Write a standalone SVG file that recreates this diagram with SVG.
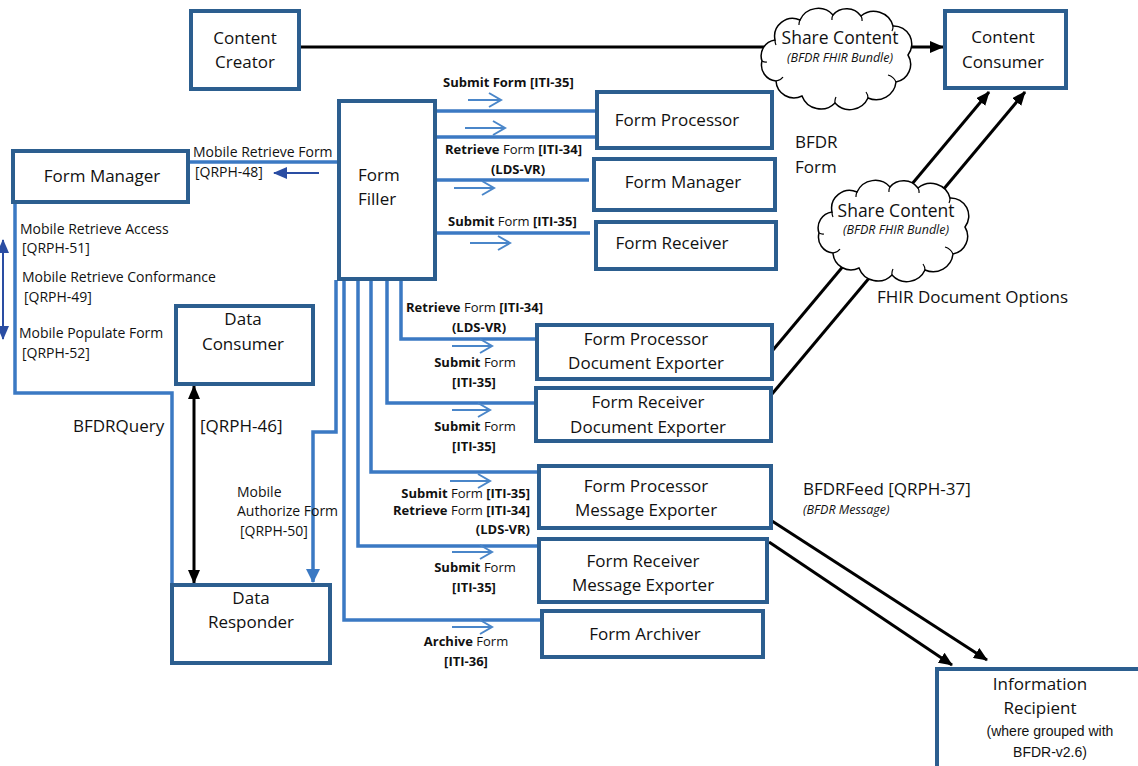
<svg xmlns="http://www.w3.org/2000/svg" width="1138" height="766" viewBox="0 0 1138 766">
<style>
.box{fill:#fff;stroke:#2C5E8F;stroke-width:4}
.t{font-family:"Open Sans","Noto Sans",sans-serif;font-size:17px;fill:#111;text-anchor:middle}
.s{font-family:"Open Sans","Noto Sans",sans-serif;font-size:14px;fill:#111}
.b{font-family:"Open Sans","Noto Sans",sans-serif;font-size:13px;fill:#111}
.bb{font-weight:bold}
.it{font-family:"Open Sans","Noto Sans",sans-serif;font-size:12.5px;font-style:italic;fill:#111;text-anchor:middle}
.blue{fill:none;stroke:#3B79C3;stroke-width:3.5}
.blk{fill:none;stroke:#000;stroke-width:3}
.sm{fill:none;stroke:#4A86C9;stroke-width:2}
.cloud{fill:#fff;stroke:#000;stroke-width:1.5}
.cin{fill:none;stroke:#000;stroke-width:1.2}
</style>
<defs>
<marker id="ab" viewBox="0 0 14 12" refX="13" refY="6" markerWidth="14" markerHeight="12" markerUnits="userSpaceOnUse" orient="auto-start-reverse"><path d="M0,0 L14,6 L0,12 Z" fill="#000"/></marker>
<marker id="abl" viewBox="0 0 14 14" refX="13" refY="7" markerWidth="14" markerHeight="14" markerUnits="userSpaceOnUse" orient="auto"><path d="M0,0 L14,7 L0,14 Z" fill="#3B79C3"/></marker>
<marker id="adb" viewBox="0 0 14 12" refX="13" refY="6" markerWidth="14" markerHeight="12" markerUnits="userSpaceOnUse" orient="auto-start-reverse"><path d="M0,0 L14,6 L0,12 Z" fill="#2A4DA3"/></marker>
<g id="cl">
<path class="cloud" d="M20,30 A18,18 0 0 1 45,10 A20,20 0 0 1 78,5 A18,18 0 0 1 106,6 A20,20 0 0 1 138,16 A18,18 0 0 1 153,45 A18,18 0 0 1 141,72 A20,20 0 0 1 113,88 A20,20 0 0 1 80,93 A20,20 0 0 1 47,86 A18,18 0 0 1 21,71 A16,16 0 0 1 7,51 A16,16 0 0 1 20,30 Z"/>
<path class="cin" d="M20,30 A12,12 0 0 0 21,35 M45,10 A10,10 0 0 0 44,15 M78,5 A8,8 0 0 0 77,10 M106,6 A8,8 0 0 1 107,11 M138,16 A10,10 0 0 1 137,21 M141,72 A12,12 0 0 0 133,65 M113,88 A10,10 0 0 0 111,82 M80,93 A10,10 0 0 1 81,87 M21,71 A10,10 0 0 0 28,67 M7,51 A8,8 0 0 0 12,52"/>
</g>
</defs>

<g id="connectors">
  <path class="blk" d="M300,47 H943" marker-end="url(#ab)"/>
  <path class="blk" d="M773,350 L989,92" marker-end="url(#ab)"/>
  <path class="blk" d="M772,394 L1025,92" marker-end="url(#ab)"/>
  <path class="blk" d="M772,521 L987,660" marker-end="url(#ab)"/>
  <path class="blk" d="M769,542 L952,665" marker-end="url(#ab)"/>
  <path class="blk" d="M194,386 V583" marker-start="url(#ab)" marker-end="url(#ab)"/>
  <path class="blue" d="M338,162 H190"/>
  <path class="blue" d="M15,203 V393 H172 V584"/>
  <path class="blue" d="M336,280 V432 H313 V582" marker-end="url(#abl)"/>
  <path class="blue" d="M436,111 H596"/>
  <path class="blue" d="M436,137 H596"/>
  <path class="blue" d="M436,180 H589"/>
  <path class="blue" d="M436,233 H590"/>
  <path class="blue" d="M401,280 V339 H536"/>
  <path class="blue" d="M387,280 V403 H535"/>
  <path class="blue" d="M371,280 V472 H538"/>
  <path class="blue" d="M358,280 V546 H538"/>
  <path class="blue" d="M344,280 V620 H541"/>
  <path d="M319,173 H274" fill="none" stroke="#2A4DA3" stroke-width="2" marker-end="url(#adb)"/>
  <path d="M3,240 V339" fill="none" stroke="#2A4DA3" stroke-width="2" marker-start="url(#adb)" marker-end="url(#adb)"/>
  <path class="sm" d="M468,100 H501 M489,93 L501,100 L489,107"/>
  <path class="sm" d="M465,128 H505 M493,121 L505,128 L493,135"/>
  <path class="sm" d="M454,188 H494 M482,181 L494,188 L482,195"/>
  <path class="sm" d="M470,243 H510 M498,236 L510,243 L498,250"/>
  <path class="sm" d="M452,346 H492 M480,339 L492,346 L480,353"/>
  <path class="sm" d="M452,410 H490 M478,403 L490,410 L478,417"/>
  <path class="sm" d="M450,481 H490 M478,474 L490,481 L478,488"/>
  <path class="sm" d="M452,552 H492 M480,545 L492,552 L480,559"/>
  <path class="sm" d="M452,627 H492 M480,620 L492,627 L480,634"/>
</g>

<g id="cloud1">
  <use href="#cl" transform="translate(755,10)"/>
  <text class="t" x="840" y="44" style="font-size:17.5px">Share Content</text>
  <text class="it" x="840" y="62">(BFDR FHIR Bundle)</text>
</g>
<g id="cloud2">
  <use href="#cl" transform="translate(812,182)"/>
  <text class="t" x="896" y="217" style="font-size:17.5px">Share Content</text>
  <text class="it" x="896" y="234">(BFDR FHIR Bundle)</text>
</g>

<g id="content-creator"><rect class="box" x="191" y="11" width="108" height="78"/><text class="t" x="245" y="44">Content</text><text class="t" x="245" y="68">Creator</text></g>
<g id="content-consumer"><rect class="box" x="945" y="11" width="121" height="77"/><text class="t" x="1003" y="43">Content</text><text class="t" x="1003" y="68">Consumer</text></g>
<g id="form-manager-left"><rect class="box" x="13" y="151" width="175" height="51"/><text class="t" x="102" y="182">Form Manager</text></g>
<g id="form-filler"><rect class="box" x="339" y="101" width="96" height="178"/><text class="t" x="358" y="181" style="text-anchor:start">Form</text><text class="t" x="358" y="205" style="text-anchor:start">Filler</text></g>
<g id="form-processor"><rect class="box" x="597" y="92" width="175" height="56"/><text class="t" x="677" y="126">Form Processor</text></g>
<g id="form-manager-right"><rect class="box" x="594" y="159" width="181" height="51"/><text class="t" x="683" y="188">Form Manager</text></g>
<g id="form-receiver"><rect class="box" x="596" y="222" width="180" height="47"/><text class="t" x="672" y="249">Form Receiver</text></g>
<g id="data-consumer"><rect class="box" x="176" y="306" width="137" height="78"/><text class="t" x="243" y="325">Data</text><text class="t" x="243" y="350">Consumer</text></g>
<g id="data-responder"><rect class="box" x="172" y="585" width="158" height="78"/><text class="t" x="251" y="604">Data</text><text class="t" x="251" y="628">Responder</text></g>
<g id="fp-doc-exporter"><rect class="box" x="537" y="325" width="235" height="54"/><text class="t" x="646" y="345">Form Processor</text><text class="t" x="646" y="369">Document Exporter</text></g>
<g id="fr-doc-exporter"><rect class="box" x="536" y="388" width="235" height="53"/><text class="t" x="648" y="408">Form Receiver</text><text class="t" x="648" y="433">Document Exporter</text></g>
<g id="fp-msg-exporter"><rect class="box" x="539" y="466" width="232" height="62"/><text class="t" x="646" y="492">Form Processor</text><text class="t" x="646" y="516">Message Exporter</text></g>
<g id="fr-msg-exporter"><rect class="box" x="539" y="539" width="228" height="63"/><text class="t" x="643" y="567">Form Receiver</text><text class="t" x="643" y="591">Message Exporter</text></g>
<g id="form-archiver"><rect class="box" x="542" y="611" width="221" height="46"/><text class="t" x="645" y="640">Form Archiver</text></g>
<g id="information-recipient"><rect class="box" x="937" y="669" width="230" height="120"/><text class="t" x="1040" y="690">Information</text><text class="t" x="1040" y="714">Recipient</text><text x="1050" y="736" style="font-family:'Liberation Sans',Arial,sans-serif;font-size:14px;text-anchor:middle;fill:#111">(where grouped with</text><text x="1050" y="757" style="font-family:'Liberation Sans',Arial,sans-serif;font-size:14px;text-anchor:middle;fill:#111">BFDR-v2.6)</text></g>

<g id="labels">
  <text class="s" x="193" y="157">Mobile Retrieve Form</text>
  <text class="s" x="195" y="177">[QRPH-48]</text>
  <text class="s" x="20" y="234">Mobile Retrieve Access</text>
  <text class="s" x="22" y="253">[QRPH-51]</text>
  <text class="s" x="22" y="282">Mobile Retrieve Conformance</text>
  <text class="s" x="24" y="302">[QRPH-49]</text>
  <text class="s" x="19" y="338">Mobile Populate Form</text>
  <text class="s" x="22" y="358">[QRPH-52]</text>
  <text class="s" x="73" y="432" style="font-size:17px">BFDRQuery</text>
  <text class="s" x="200" y="432" style="font-size:17px">[QRPH-46]</text>
  <text class="s" x="237" y="497">Mobile</text>
  <text class="s" x="237" y="516">Authorize Form</text>
  <text class="s" x="240" y="536">[QRPH-50]</text>

  <text class="b bb" x="443" y="87">Submit Form [ITI-35]</text>
  <text class="b" x="445" y="154"><tspan class="bb">Retrieve</tspan> Form <tspan class="bb">[ITI-34]</tspan></text>
  <text class="b bb" x="518" y="174" text-anchor="middle">(LDS-VR)</text>
  <text class="b" x="448" y="226"><tspan class="bb">Submit</tspan> Form <tspan class="bb">[ITI-35]</tspan></text>

  <text class="b" x="406" y="312"><tspan class="bb">Retrieve</tspan> Form <tspan class="bb">[ITI-34]</tspan></text>
  <text class="b bb" x="479" y="332" text-anchor="middle">(LDS-VR)</text>
  <text class="b" x="475" y="367" text-anchor="middle"><tspan class="bb">Submit</tspan> Form</text>
  <text class="b bb" x="474" y="387" text-anchor="middle">[ITI-35]</text>
  <text class="b" x="475" y="431" text-anchor="middle"><tspan class="bb">Submit</tspan> Form</text>
  <text class="b bb" x="474" y="451" text-anchor="middle">[ITI-35]</text>
  <text class="b" x="530" y="498" text-anchor="end"><tspan class="bb">Submit</tspan> Form <tspan class="bb">[ITI-35]</tspan></text>
  <text class="b" x="530" y="515" text-anchor="end"><tspan class="bb">Retrieve</tspan> Form <tspan class="bb">[ITI-34]</tspan></text>
  <text class="b bb" x="530" y="534" text-anchor="end">(LDS-VR)</text>
  <text class="b" x="475" y="572" text-anchor="middle"><tspan class="bb">Submit</tspan> Form</text>
  <text class="b bb" x="474" y="592" text-anchor="middle">[ITI-35]</text>
  <text class="b" x="466" y="646" text-anchor="middle"><tspan class="bb">Archive</tspan> Form</text>
  <text class="b bb" x="466" y="666" text-anchor="middle">[ITI-36]</text>

  <text class="s" x="795" y="148" style="font-size:17px">BFDR</text>
  <text class="s" x="795" y="173" style="font-size:17px">Form</text>
  <text class="s" x="877" y="303" style="font-size:17px">FHIR Document Options</text>
  <text class="s" x="803" y="495" style="font-size:17px">BFDRFeed [QRPH-37]</text>
  <text class="it" x="803" y="514" style="text-anchor:start">(BFDR Message)</text>
</g>
</svg>
